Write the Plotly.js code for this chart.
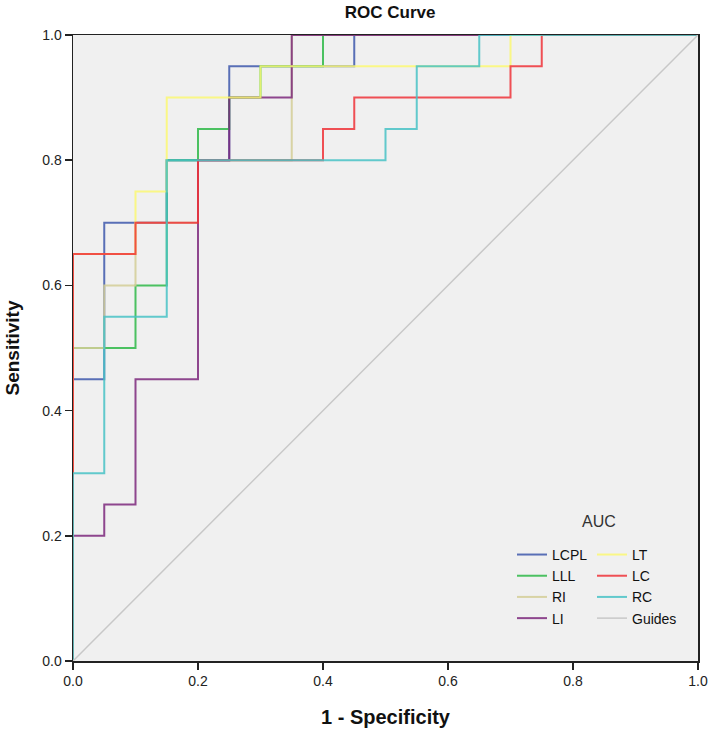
<!DOCTYPE html>
<html>
<head>
<meta charset="utf-8">
<script src="https://cdn.plot.ly/plotly-3.0.1.min.js"></script>
<style>html,body{margin:0;padding:0;background:#fff;}#chart{width:712px;height:733px;}</style>
</head>
<body>
<div id="chart"></div>
<script>
// ROC step-curve corner points (1 - specificity, sensitivity)
var seriesNames = ["LCPL", "LLL", "RI", "LI", "LT", "LC", "RC"];
var lcplX = [0, 0, 0.05, 0.15, 0.25, 0.45, 1];
var lcplY = [0, 0.45, 0.70, 0.80, 0.95, 1.00, 1];
var lllX = [0, 0, 0.10, 0.15, 0.20, 0.25, 0.30, 0.40, 1];
var lllY = [0, 0.50, 0.60, 0.80, 0.85, 0.90, 0.95, 1.00, 1];
var riX = [0, 0, 0.05, 0.10, 0.20, 0.35, 1];
var riY = [0, 0.50, 0.60, 0.70, 0.80, 1.00, 1];
var liX = [0, 0, 0.05, 0.10, 0.20, 0.25, 0.35, 1];
var liY = [0, 0.20, 0.25, 0.45, 0.80, 0.90, 1.00, 1];
var ltX = [0, 0, 0.10, 0.15, 0.30, 0.70, 1];
var ltY = [0, 0.65, 0.75, 0.90, 0.95, 1.00, 1];
var lcX = [0, 0, 0.10, 0.20, 0.40, 0.45, 0.70, 0.75, 1];
var lcY = [0, 0.65, 0.70, 0.80, 0.85, 0.90, 0.95, 1.00, 1];
var rcX = [0, 0, 0.05, 0.15, 0.50, 0.55, 0.65, 1];
var rcY = [0, 0.30, 0.55, 0.80, 0.85, 0.95, 1.00, 1];
var guideX = [0, 1];
var guideY = [0, 1];
var tickVals = [0, 0.2, 0.4, 0.6, 0.8, 1.0];
var tickText = ["0.0", "0.2", "0.4", "0.6", "0.8", "1.0"];

var xs = [lcplX, lllX, riX, liX, ltX, lcX, rcX];
var ys = [lcplY, lllY, riY, liY, ltY, lcY, rcY];
var colors = ["#3E58AC", "#2EB848", "#D3CE97", "#7C287D", "#FBF873", "#EF3338", "#48C2C5"];
var legendIds = ["legend", "legend", "legend", "legend", "legend2", "legend2", "legend2"];

var FONT = "Liberation Sans, Arial, sans-serif";

var traces = seriesNames.map(function (n, i) {
  return {
    x: xs[i], y: ys[i], name: n, type: "scatter", mode: "lines",
    line: {shape: "hv", color: colors[i], width: 2},
    opacity: 0.85, legend: legendIds[i]
  };
});
traces.push({
  x: guideX, y: guideY, name: "Guides", type: "scatter", mode: "lines",
  line: {color: "#c8c8c8", width: 1.5}, legend: "legend2"
});

var axisCommon = {
  range: [0, 1], tickvals: tickVals, ticktext: tickText,
  showgrid: false, zeroline: false, showline: true, mirror: true,
  linecolor: "#222", linewidth: 1.5, ticks: "outside", ticklen: 7,
  tickwidth: 1.5, tickcolor: "#222",
  tickfont: {family: FONT, size: 14, color: "#222"}
};

var legendCommon = {
  orientation: "v", xanchor: "left", y: 0.195, yanchor: "top",
  bgcolor: "rgba(0,0,0,0)", borderwidth: 0,
  font: {family: FONT, size: 14, color: "#111"}
};

var layout = {
  width: 712, height: 733,
  margin: {l: 73, r: 14, t: 35, b: 72},
  paper_bgcolor: "#ffffff", plot_bgcolor: "#f0f0f0",
  title: {text: "ROC Curve", x: 0.548, xanchor: "center", y: 0.984, yanchor: "middle",
    font: {family: FONT, size: 17, color: "#111", weight: "bold"}},
  xaxis: Object.assign({}, axisCommon, {
    title: {text: "1 - Specificity", standoff: 21,
      font: {family: FONT, size: 20, color: "#111", weight: "bold"}}
  }),
  yaxis: Object.assign({}, axisCommon, {
    title: {text: "Sensitivity", standoff: 17,
      font: {family: FONT, size: 19, color: "#111", weight: "bold"}}
  }),
  legend: Object.assign({}, legendCommon, {x: 0.7024}),
  legend2: Object.assign({}, legendCommon, {x: 0.8304}),
  annotations: [{
    text: "AUC", xref: "paper", yref: "paper", x: 0.8416, y: 0.2236,
    xanchor: "center", yanchor: "middle", showarrow: false,
    font: {family: FONT, size: 16, color: "#333"}
  }],
  showlegend: true
};

Plotly.newPlot("chart", traces, layout, {displayModeBar: false, staticPlot: true});
</script>
</body>
</html>
